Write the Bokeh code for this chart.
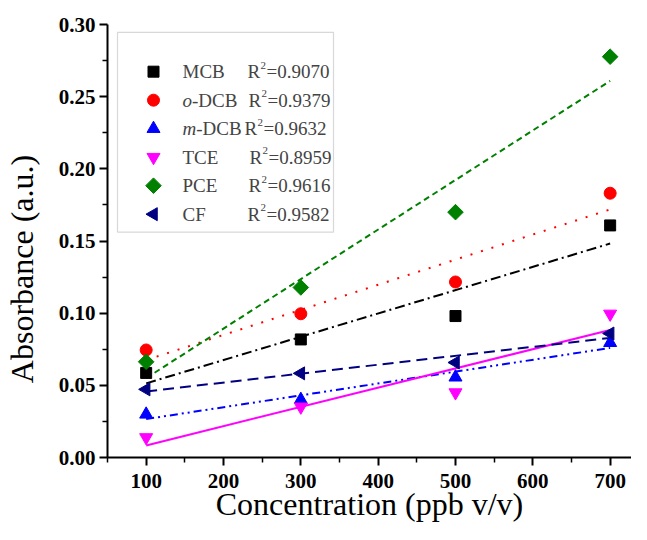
import numpy as np
from bokeh.plotting import figure
from bokeh.models import Range1d, FixedTicker, NumeralTickFormatter, BoxAnnotation, Label
from bokeh.embed import file_html
from bokeh.resources import INLINE

# ---------------- data ----------------
conc = [100, 300, 500, 700]
mcb = [0.0586, 0.0818, 0.0980, 0.1608]
odcb = [0.0745, 0.0996, 0.1216, 0.1831]
mdcb = [0.0299, 0.0401, 0.0556, 0.0795]
tce = [0.0139, 0.0351, 0.0450, 0.0995]
pce = [0.0663, 0.1178, 0.1700, 0.2777]
cf = [0.0472, 0.0583, 0.0658, 0.0859]

names = ["MCB", "o-DCB", "m-DCB", "TCE", "PCE", "CF"]
r2_values = ["0.9070", "0.9379", "0.9632", "0.8959", "0.9616", "0.9582"]

x_ticks = [100, 200, 300, 400, 500, 600, 700]
x_minor = [50, 150, 250, 350, 450, 550, 650]
y_ticks = [0.0, 0.05, 0.10, 0.15, 0.20, 0.25, 0.30]
y_minor = [0.025, 0.075, 0.125, 0.175, 0.225, 0.275]

x_title = "Concentration (ppb v/v)"
y_title = "Absorbance (a.u.)"

# ---------------- styles ----------------
series = [
    (mcb, "square", 11, 0, "black", "10 4 2 4"),
    (odcb, "circle", 12, 0, "#FF0000", "2 9"),
    (mdcb, "triangle", 13, 0, "#0000FF", "8 4 2 4 2 4"),
    (tce, "inverted_triangle", 13, 0, "#FF00FF", "solid"),
    (pce, "square", 11, np.pi / 4, "#008000", "6 4"),
    (cf, "triangle", 13, np.pi / 2, "#000080", "11 6"),
]

W, H = 631, 524
FRAME_LEFT, FRAME_TOP, FRAME_BOTTOM = 107, 24, 460     # canvas pixels
FRAME_W = W - FRAME_LEFT
FRAME_H = FRAME_BOTTOM - FRAME_TOP
X0 = 50
X1 = X0 + FRAME_W / 0.7733           # same px-per-unit as the reference
Y0, Y1 = 0.0, 0.30


def dx(px):
    return X0 + (px - FRAME_LEFT) * (X1 - X0) / FRAME_W


def dy(py):
    return Y1 - (py - FRAME_TOP) * (Y1 - Y0) / FRAME_H


FONT = "Liberation Serif"

p = figure(width=W, height=H, x_range=Range1d(X0, X1), y_range=Range1d(Y0, Y1),
           output_backend="svg", toolbar_location=None,
           min_border_left=FRAME_LEFT, min_border_right=0, min_border_top=FRAME_TOP,
           min_border_bottom=H - FRAME_BOTTOM)
p.xgrid.visible = False
p.ygrid.visible = False
p.outline_line_color = None
p.background_fill_color = "white"

p.xaxis.ticker = FixedTicker(ticks=x_ticks, minor_ticks=x_minor)
p.yaxis.ticker = FixedTicker(ticks=y_ticks, minor_ticks=y_minor)
p.yaxis.formatter = NumeralTickFormatter(format="0.00")
p.xaxis.axis_label = x_title
# trailing no-break spaces move the vertical title slightly down, as in the reference
p.yaxis.axis_label = y_title + "\u00a0" * 7
for ax in (p.xaxis, p.yaxis):
    ax.axis_line_width = 2
    ax.axis_line_color = "black"
    ax.major_tick_line_width = 2
    ax.major_tick_line_color = "black"
    ax.minor_tick_line_width = 1.5
    ax.minor_tick_line_color = "black"
    ax.major_tick_out = 8
    ax.major_tick_in = 0
    ax.minor_tick_out = 5
    ax.minor_tick_in = 0
    ax.major_label_text_font = FONT
    ax.major_label_text_font_style = "bold"
    ax.major_label_text_font_size = "21px"
    ax.major_label_text_color = "black"
    ax.major_label_text_line_height = 1.0
    ax.axis_label_text_font = FONT
    ax.axis_label_text_font_style = "normal"
    ax.axis_label_text_font_size = "32px"
    ax.axis_label_text_color = "black"
    ax.axis_label_text_line_height = 1.0
p.xaxis.major_label_standoff = 8
p.yaxis.major_label_standoff = 4
p.xaxis.axis_label_standoff = -5
p.yaxis.axis_label_standoff = 16

# fit lines and points
xs = np.array(conc, dtype=float)
for vals, marker, size, angle, color, dash in series:
    k, b = np.polyfit(xs, np.array(vals), 1)
    fx = np.array([xs.min(), xs.max()])
    p.line(fx, k * fx + b, line_color=color, line_width=2, line_dash=dash)
for vals, marker, size, angle, color, dash in series:
    p.scatter(conc, vals, marker=marker, size=size, angle=angle,
              fill_color=color, line_color=color)

# ---------------- legend (manual) ----------------
LEG_L, LEG_T, LEG_R, LEG_B = 117, 32, 333, 233
ROW0, ROW_STEP = 71.5, 28.7
MARK_X, NAME_X = 153, 182
R_X = [247, 248, 244, 249, 248, 247]
FS = "19px"

p.add_layout(BoxAnnotation(left=dx(LEG_L), right=dx(LEG_R), top=dy(LEG_T), bottom=dy(LEG_B),
                           fill_color="white", fill_alpha=1.0,
                           line_color="#7f7f7f", line_width=1.2, level="annotation"))

for i, (s, name, r2) in enumerate(zip(series, names, r2_values)):
    vals, marker, size, angle, color, dash = s
    ry = ROW0 + i * ROW_STEP
    p.scatter([dx(MARK_X)], [dy(ry)], marker=marker, size=size, angle=angle,
              fill_color=color, line_color=color, level="overlay")
    if "-" in name and name.split("-")[0].islower():
        pre, rest = name.split("-", 1)
        p.add_layout(Label(x=dx(NAME_X), y=dy(ry), text=pre, text_font=FONT,
                           text_font_style="italic", text_font_size=FS,
                           text_baseline="middle", text_align="left", level="overlay"))
        w = 9.5 if pre == "o" else 13.7
        p.add_layout(Label(x=dx(NAME_X + w), y=dy(ry), text="-" + rest, text_font=FONT,
                           text_font_size=FS, text_baseline="middle",
                           text_align="left", level="overlay"))
    else:
        p.add_layout(Label(x=dx(NAME_X), y=dy(ry), text=name, text_font=FONT,
                           text_font_size=FS, text_baseline="middle",
                           text_align="left", level="overlay"))
    rx = R_X[i]
    p.add_layout(Label(x=dx(rx), y=dy(ry), text="R", text_font=FONT,
                       text_font_size=FS, text_baseline="middle",
                       text_align="left", level="overlay"))
    p.add_layout(Label(x=dx(rx + 13), y=dy(ry - 6.5), text="2", text_font=FONT,
                       text_font_size="11px", text_baseline="middle",
                       text_align="left", level="overlay"))
    p.add_layout(Label(x=dx(rx + 19), y=dy(ry), text="=" + r2, text_font=FONT,
                       text_font_size=FS, text_baseline="middle",
                       text_align="left", level="overlay"))

open("out.html", "w").write(file_html(p, INLINE))
